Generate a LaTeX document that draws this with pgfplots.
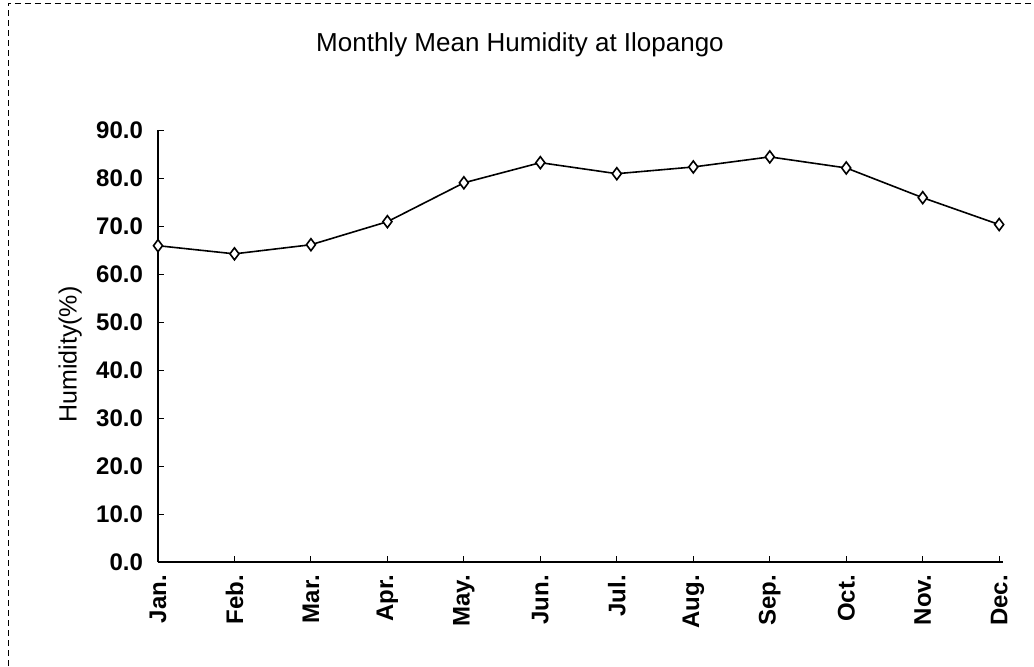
\documentclass[border=0pt]{standalone}
\usepackage{fontspec}
\setmainfont{Liberation Sans}
\usepackage{pgfplots}
\pgfplotsset{compat=1.18}
\begin{document}
\begin{tikzpicture}
\useasboundingbox (0,0) rectangle (517pt,333pt);
\draw[densely dashed, line width=0.4pt] (4pt,0) -- (4pt,331.5pt) -- (517pt,331.5pt);
\node[font=\fontsize{13}{15}\selectfont] at (260pt,310.5pt) {Monthly Mean Humidity at Ilopango};
\begin{axis}[
  scale only axis,
  width=422.5pt, height=216pt,
  at={(79pt,52pt)}, anchor=south west,
  axis lines=left,
  axis line style={-, line width=0.6pt},
  xmin=0, xmax=11.05,
  ymin=0, ymax=90,
  ytick={0,10,...,90},
  xtick={0,...,11},
  xticklabels={Jan.,Feb.,Mar.,Apr.,May.,Jun.,Jul.,Aug.,Sep.,Oct.,Nov.,Dec.},
  x tick label style={rotate=90, anchor=east, xshift=-3pt, font=\fontsize{12}{14}\selectfont\bfseries},
  y tick label style={xshift=-4pt, font=\fontsize{12}{14}\selectfont\bfseries},
  /pgf/number format/assume math mode=true,
  yticklabel={\pgfmathprintnumber[fixed,fixed zerofill,precision=1]{\tick}},
  tick align=inside,
  major tick length=3pt,
  tick style={black, line width=0.5pt},
  ylabel={Humidity(\%)},
  ylabel style={font=\fontsize{12.5}{14}\selectfont, at={(axis description cs:-0.104,0.48)}, anchor=center},
  clip=false,
]
\addplot[black, line width=0.8pt, mark=diamond*, mark size=3pt, mark options={fill=white, solid, line width=0.8pt}]
coordinates {
(0,65.9) (1,64.2) (2,66.1) (3,70.9) (4,79.0) (5,83.2)
(6,80.9) (7,82.3) (8,84.4) (9,82.1) (10,75.9) (11,70.3)
};
\end{axis}
\end{tikzpicture}
\end{document}
